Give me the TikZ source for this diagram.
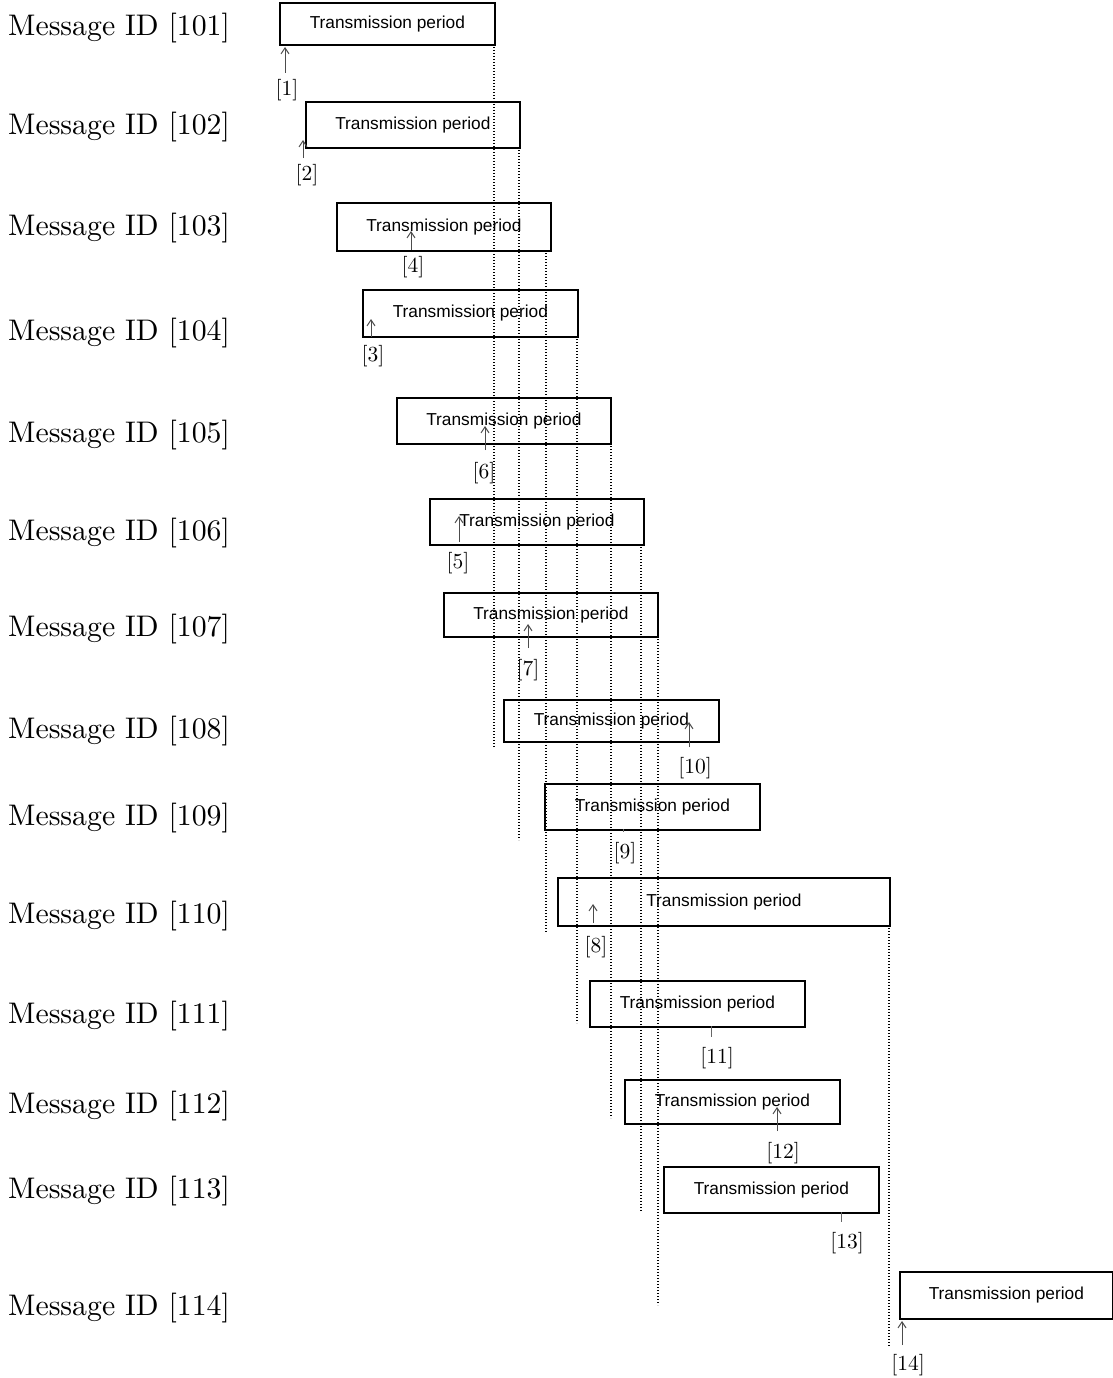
\documentclass[tikz,border=0pt]{standalone}
\usepackage{fontspec}
\newfontfamily\boxfont{Liberation Sans}
\usetikzlibrary{arrows.meta}
\newcommand\msgtext[1]{\scalebox{2.98}{\fontsize{10}{12}\selectfont #1}}
\newcommand\idxtext[1]{\scalebox{2.15}{\fontsize{10}{12}\selectfont #1}}
\begin{document}
\begin{tikzpicture}[x=1pt,y=-1pt,
  tbox/.style={draw, line width=1.7pt, anchor=north west, inner sep=0pt,
    font=\boxfont\fontsize{17.3}{20}\selectfont},
  msg/.style={anchor=west, inner sep=0pt},
  idx/.style={inner sep=0pt},
  ptr/.style={draw=black!70, line width=1pt, -{Straight Barb[length=6pt,width=8pt]}},
  tick/.style={draw=black!60, line width=1pt},
  dots/.style={draw, line width=1.4pt, dash pattern=on 1.4pt off 1.6pt}]
\useasboundingbox (0,0) rectangle (1113,1378);

% message rows
\foreach \n/\y in {101/28,102/127,103/228,104/333,105/435,106/533,107/629,
                   108/731,109/818,110/916,111/1016,112/1106,113/1191,114/1308}
  \node[msg] (m\n) at (8,\y) {\msgtext{Message ID [\n]}};

% transmission periods: name / left / top / right / bottom
\foreach \n/\l/\t/\r/\b in {101/279/2/494/44, 102/305/101/519/147, 103/336/202/550/250,
    104/362/289/577/336, 105/396/397/610/443, 106/429/498/643/544,
    107/443/592/657/636, 108/503/699/718/741, 109/544/783/759/829,
    110/557/877/889/925, 111/589/980/804/1026, 112/624/1079/839/1123,
    113/663/1166/878/1212, 114/899/1271/1112/1318}
  \node[tbox, minimum width={\r-\l}, minimum height={\b-\t}] (b\n) at (\l,\t)
    {Transmission period};

% dotted end-of-period guides
\foreach \k/\x/\s/\e in {1/494/44/748, 2/519/147/840, 3/546/250/933, 4/577/336/1023,
    5/611/443/1118, 6/641/544/1212, 7/658/636/1305, 8/889/925/1347} {
  \coordinate (ds\k) at (\x,\s);
  \coordinate (de\k) at (\x,\e);
  \draw[dots] (ds\k) -- (de\k);
}

% event labels
\foreach \n/\x/\y in {1/287/90, 2/307/175, 4/413/267, 3/373/356, 6/484/473, 5/458/563,
    7/528/670, 10/695/768, 9/625/853, 8/596/947, 11/717/1058, 12/783/1153,
    13/847/1243, 14/908/1365}
  \node[idx] (e\n) at (\x,\y) {\idxtext{[\n]}};

% event pointers
\foreach \n/\x/\a/\b in {1/285/73/47, 2/303/158/140, 4/411/250/231, 3/371/337/319,
    6/485/450/426, 5/459/542/516, 7/528/648/624, 10/689/747/722, 8/593/923/904,
    12/777/1131/1107, 14/902/1345/1321} {
  \coordinate (pa\n) at (\x,\a);
  \coordinate (pb\n) at (\x,\b);
  \draw[ptr] (pa\n) -- (pb\n);
}

% short ticks without heads
\foreach \n/\x/\a/\b in {9/623/829/832, 11/711/1026/1037, 13/841/1212/1222} {
  \coordinate (ta\n) at (\x,\a);
  \coordinate (tb\n) at (\x,\b);
  \draw[tick] (ta\n) -- (tb\n);
}
\end{tikzpicture}
\end{document}
